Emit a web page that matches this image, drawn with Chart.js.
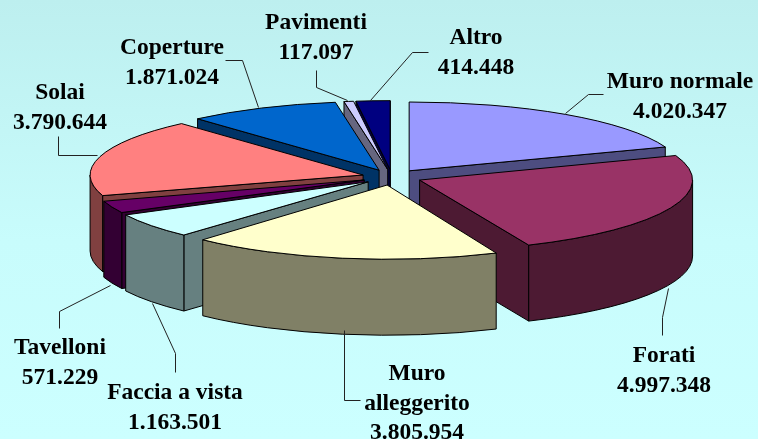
<!DOCTYPE html>
<html><head><meta charset="utf-8">
<style>html,body{margin:0;padding:0;background:#c6fbfb}canvas{display:block}</style>
<script src="https://cdn.jsdelivr.net/npm/chart.js@4"></script>
</head><body><div style="width:758px;height:439px"><canvas id="c" width="758" height="439"></canvas></div>
<script>
const categories = ["Muro normale","Forati","Muro alleggerito","Faccia a vista","Tavelloni","Solai","Coperture","Pavimenti","Altro"];
const values = [4020347,4997348,3805954,1163501,571229,3790644,1871024,117097,414448];
const topColors = ["#9999ff","#993366","#ffffcc","#ccffff","#660066","#ff8080","#0066cc","#ccccff","#000080"];
const sideColors = ["#4d4d80","#4d1a33","#808066","#668080","#330033","#804040","#003366","#666680","#000040"];

const SQUASH = 0.252, NEAR_OPEN = 0.02, DEPTH = 76, EXPLODE = 30;

// text blocks and leader lines, indexed like categories
const labelLines = [["Muro normale"],["Forati"],["Muro","alleggerito"],["Faccia a vista"],["Tavelloni"],["Solai"],["Coperture"],["Pavimenti"],["Altro"]];
const labelAnchor = [[680,81],[664,355],[417,373],[175,392],[60,347],[60,92],[172,47],[316,22],[476,37]];
const labelGap = 29.5;
const leaders = [
 [[565,113],[588,94],[603,94]],
 [[668,288],[662,317],[662,335]],
 [[344,330],[344,400],[360,400]],
 [[152,303],[175,353],[175,372]],
 [[110,285],[59,311],[59,328]],
 [[97,155],[58,155],[58,136]],
 [[258,107],[242,60],[225,60]],
 [[347,100],[316,87],[316,70]],
 [[370,100],[412,52],[428,52]]
];
const fmt = v => String(v).replace(/\B(?=(\d{3})+$)/g, ".");

const pie3d = {
  id: "pie3d",
  beforeDraw(chart) {
    const { ctx, width, height } = chart;
    const g = ctx.createLinearGradient(0, 0, 0, height);
    g.addColorStop(0, "#bdefef");
    g.addColorStop(0.55, "#c8fcfc");
    g.addColorStop(1, "#ccffff");
    ctx.save(); ctx.fillStyle = g; ctx.fillRect(0, 0, width, height); ctx.restore();
  },
  beforeDatasetsDraw(chart) {
    const { ctx } = chart;
    const arcs = chart.getDatasetMeta(0).data;
    const order = arcs.map((a, i) => i).sort((p, q) => {
      const m = i => (arcs[i].startAngle + arcs[i].endAngle) / 2;
      return Math.sin(m(p)) - Math.sin(m(q));
    });
    ctx.save();
    ctx.lineJoin = "round";
    ctx.strokeStyle = "#000";
    ctx.lineWidth = 1;
    for (const i of order) {
      const a = arcs[i];
      const mid = (a.startAngle + a.endAngle) / 2;
      const k = SQUASH + NEAR_OPEN * Math.max(0, Math.sin(mid));
      const cx = a.x + Math.cos(mid) * EXPLODE;
      const cy = a.y + Math.sin(mid) * EXPLODE * k;
      const r = a.outerRadius, ry = r * k;
      const pt = t => [cx + Math.cos(t) * r, cy + Math.sin(t) * ry];
      const s = a.startAngle, e = a.endAngle;
      ctx.fillStyle = sideColors[i];
      const wall = t => {
        const p = pt(t);
        ctx.beginPath();
        ctx.moveTo(cx, cy); ctx.lineTo(p[0], p[1]);
        ctx.lineTo(p[0], p[1] + DEPTH); ctx.lineTo(cx, cy + DEPTH);
        ctx.closePath(); ctx.fill(); ctx.stroke();
      };
      const walls = [];
      if (Math.cos(s) < 0) walls.push(s);
      if (Math.cos(e) > 0) walls.push(e);
      walls.sort((p, q) => Math.sin(p) - Math.sin(q)).forEach(wall);
      // outer rim, only its front half shows
      for (let n = -1; n <= 1; n++) {
        const t0 = Math.max(s, n * 2 * Math.PI), t1 = Math.min(e, n * 2 * Math.PI + Math.PI);
        if (t1 <= t0) continue;
        ctx.beginPath();
        ctx.ellipse(cx, cy, r, ry, 0, t0, t1);
        ctx.ellipse(cx, cy + DEPTH, r, ry, 0, t1, t0, true);
        ctx.closePath(); ctx.fill(); ctx.stroke();
      }
      // top face: the library's own arc element, squashed onto the plane
      ctx.save();
      ctx.translate(cx, cy);
      ctx.scale(1, k);
      ctx.translate(-a.x, -a.y);
      a.draw(ctx);
      ctx.restore();
      ctx.beginPath();
      ctx.moveTo(cx, cy);
      ctx.ellipse(cx, cy, r, ry, 0, s, e);
      ctx.closePath(); ctx.stroke();
    }
    ctx.restore();
    return false;
  },
  afterDraw(chart) {
    const { ctx } = chart;
    ctx.save();
    ctx.strokeStyle = "#222";
    ctx.lineWidth = 1;
    leaders.forEach(l => {
      ctx.beginPath();
      l.forEach((p, k) => k ? ctx.lineTo(p[0] + .5, p[1] + .5) : ctx.moveTo(p[0] + .5, p[1] + .5));
      ctx.stroke();
    });
    ctx.fillStyle = "#000";
    ctx.font = "bold 23.5px 'Liberation Serif', serif";
    ctx.textAlign = "center";
    ctx.textBaseline = "alphabetic";
    categories.forEach((c, i) => {
      const lines = [...labelLines[i], fmt(values[i])];
      lines.forEach((t, k) => ctx.fillText(t, labelAnchor[i][0], labelAnchor[i][1] + 7 + k * labelGap));
    });
    ctx.restore();
  }
};

new Chart(document.getElementById("c"), {
  type: "pie",
  data: { labels: categories, datasets: [{ data: values, backgroundColor: topColors, borderWidth: 0 }] },
  options: {
    responsive: false, animation: false, radius: 273,
    layout: { padding: { left: 26, right: 0, top: 0, bottom: 85 } },
    plugins: { legend: { display: false }, tooltip: { enabled: false }, title: { display: false } }
  },
  plugins: [pie3d]
});
</script></body></html>
